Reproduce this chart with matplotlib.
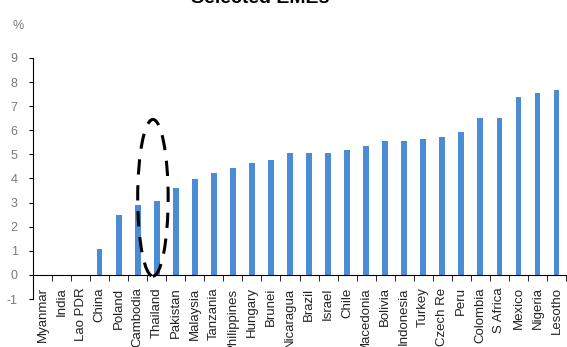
import matplotlib
matplotlib.use("Agg")
import matplotlib.pyplot as plt
from matplotlib.patches import Ellipse
import numpy as np

plt.rcParams['font.family'] = ['Liberation Sans', 'DejaVu Sans']

countries = ['Myanmar', 'India', 'Lao PDR', 'China', 'Poland', 'Cambodia', 'Thailand',
             'Pakistan', 'Malaysia', 'Tanzania', 'Philippines', 'Hungary', 'Brunei',
             'Nicaragua', 'Brazil', 'Israel', 'Chile', 'Macedonia', 'Bolivia', 'Indonesia',
             'Turkey', 'Czech Re', 'Peru', 'Colombia', 'S Africa', 'Mexico', 'Nigeria',
             'Lesotho']
values = [0.0, 0.0, 0.0, 1.07, 2.5, 2.92, 3.08,
          3.6, 3.99, 4.24, 4.42, 4.65, 4.76,
          5.07, 5.07, 5.07, 5.2, 5.35, 5.57, 5.57,
          5.65, 5.73, 5.92, 6.52, 6.52, 7.38, 7.55,
          7.69]
yticks = list(range(-1, 10))

grey = '#7a7a7a'
fig = plt.figure(figsize=(5.67, 3.47), dpi=100)
ax = fig.add_axes([33 / 567, 1 - 299 / 347, 533 / 567, 241 / 347])

# spine position first: moving it resets the tick objects
ax.spines['bottom'].set_position(('data', 0))
ax.spines['top'].set_visible(False)
ax.spines['right'].set_visible(False)
ax.spines['left'].set_color('black')

x = np.arange(len(countries))
ax.bar(x, values, width=0.3, color='#4a8cd6', zorder=2)

ax.set_xlim(-0.5, len(countries) - 0.5)
ax.set_ylim(-1, 9)
ax.set_yticks(yticks)
ax.set_yticklabels([str(t) for t in yticks], color=grey, fontsize=9)
ax.tick_params(axis='y', length=3, color='black', pad=8)

# category labels hang below the -1 line, tick marks sit between categories
ax.set_xticks(x)
ax.set_xticklabels(countries, rotation=90, color='#222222', fontsize=9.5, va='top')
ax.set_xticks(np.arange(len(countries) + 1) - 0.5, minor=True)
ax.tick_params(axis='x', which='major', length=0, pad=9)
ax.tick_params(axis='x', which='minor', length=4, color='black', direction='out')

# dashed ring around Thailand
ax.add_patch(Ellipse((5.8, 3.2), width=1.6, height=6.5, fill=False,
                     edgecolor='black', linestyle=(0, (5, 3.5)), linewidth=2.2,
                     zorder=3, clip_on=False))

fig.text(18 / 567, 1 - 26 / 347, '%', color=grey, fontsize=9, ha='center', va='center')
fig.text(260 / 567, 1 - 3 / 347, 'Selected EMEs', fontsize=14, fontweight='bold',
         ha='center', va='baseline')

fig.savefig('out.png', dpi=100)
